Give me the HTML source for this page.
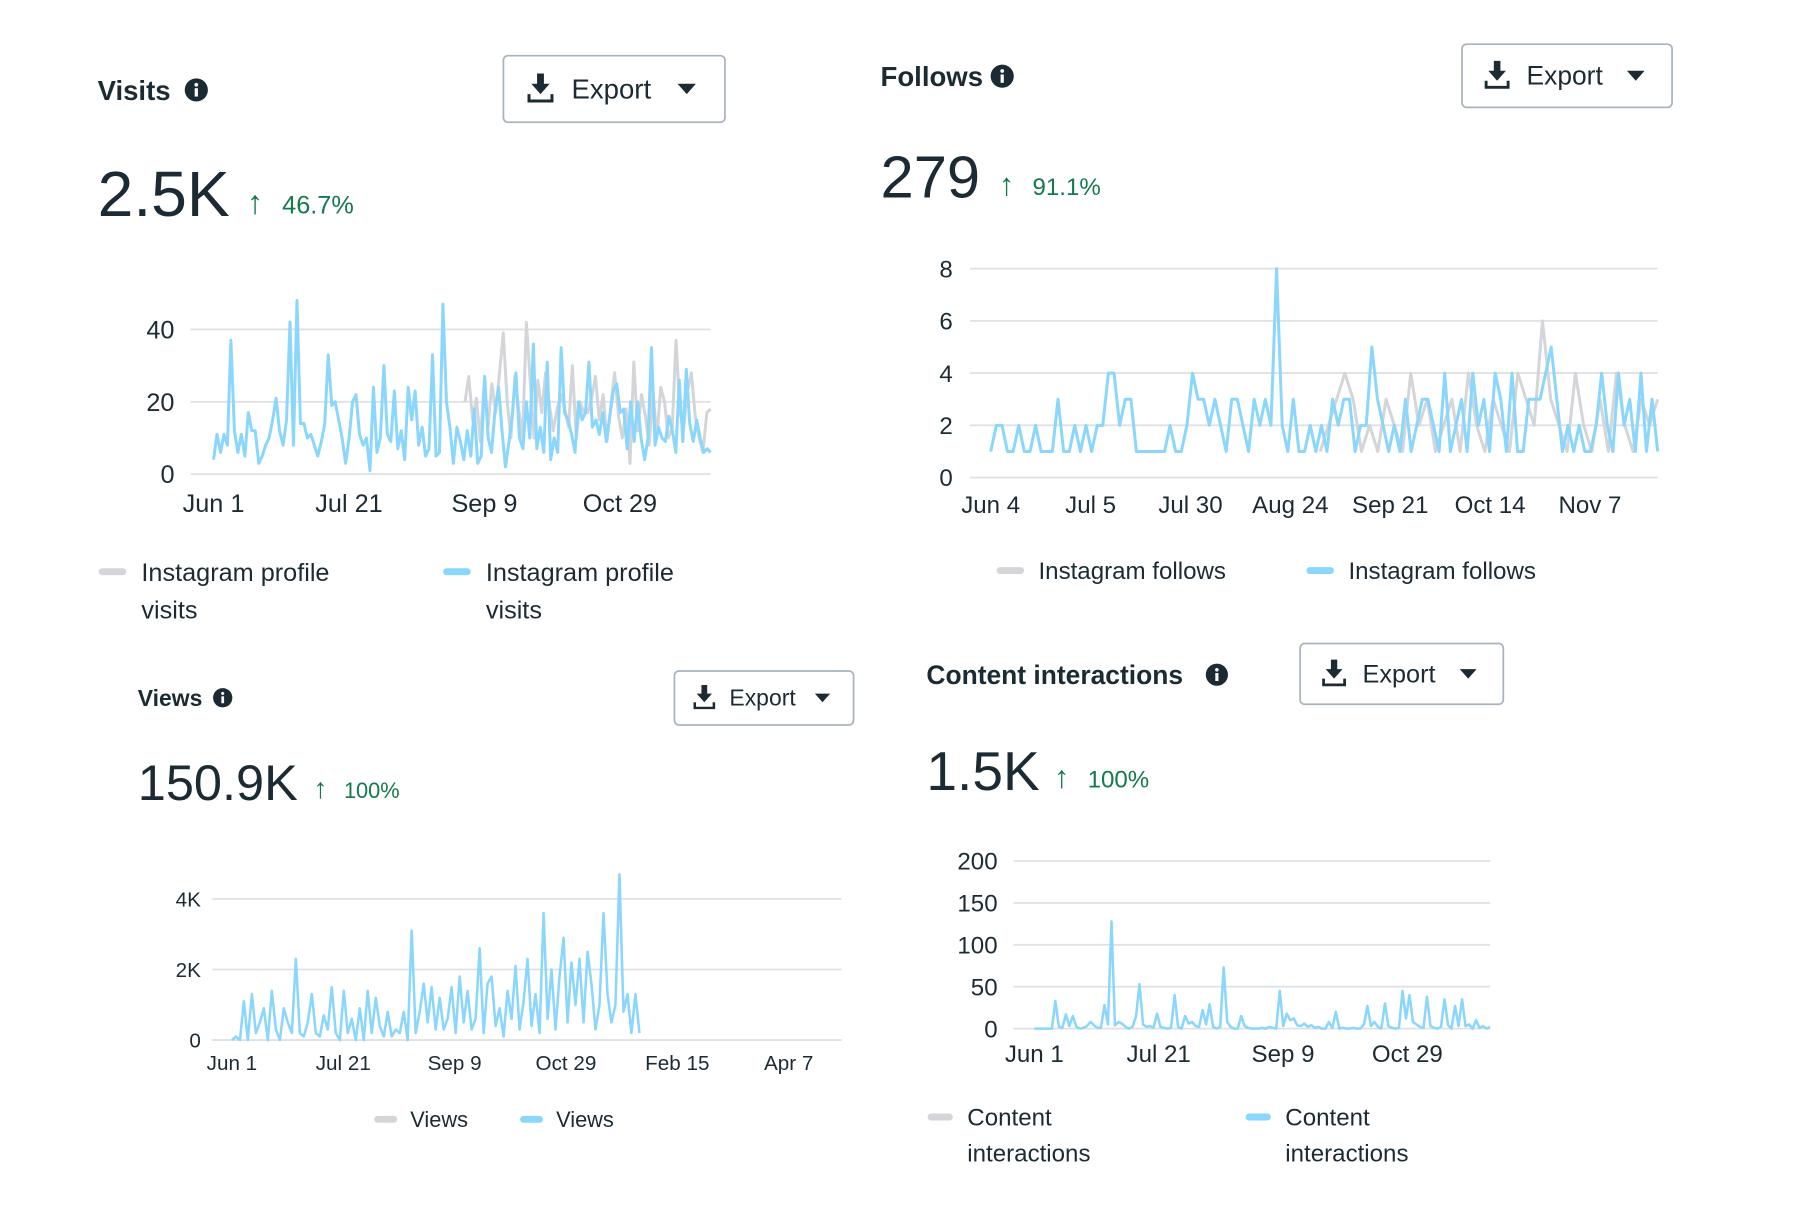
<!DOCTYPE html>
<html><head><meta charset="utf-8"><style>
html,body{margin:0;padding:0;background:#fff;width:1800px;height:1200px;overflow:hidden}
#wrap{position:absolute;left:0;top:0;width:1552px;height:1035px;transform:scale(1.148);transform-origin:0 0}
svg text{font-family:"Liberation Sans",sans-serif;fill:#1c2b33}
</style></head><body>
<div id="wrap">
<svg id="s" width="1552" height="1045" xmlns="http://www.w3.org/2000/svg"></svg>
</div>
<script>
// ---- data ----
const visitsBlue=[4,11,6,11,8,37,12,6,11,5,17,12,12,3,5,8,10,15,21,12,8,15,42,8,48,14,14,10,11,8,5,9,14,33,19,20,15,10,3,10,20,22,11,8,10,1,24,6,10,30,11,9,23,7,12,4,24,15,23,8,13,5,7,33,5,6,47,20,13,3,13,9,4,12,5,18,3,5,27,10,6,18,24,12,2,9,17,28,10,7,20,10,36,7,13,6,31,4,10,6,35,17,15,11,6,20,15,17,31,13,15,11,17,9,16,23,25,17,18,7,20,9,20,10,4,10,35,8,13,10,9,16,12,6,26,9,29,14,9,15,10,6,7,6];
const visitsGray=[20,27,15,21,9,25,13,25,17,28,39,20,10,27,18,10,42,26,10,26,17,28,19,12,18,22,18,13,30,10,20,17,17,21,27,15,22,9,19,28,16,10,18,3,31,12,22,16,8,23,10,24,20,10,13,37,17,13,23,28,16,10,6,17,18];
const visitsTicks=["0","20","40"];
const visitsTickVals=[0,20,40];
const visitsXLabels=["Jun 1","Jul 21","Sep 9","Oct 29"];

const followsBlue=[1,2,2,1,1,2,1,1,2,1,1,1,3,1,1,2,1,2,1,2,2,4,4,2,3,3,1,1,1,1,1,1,2,1,1,2,4,3,3,2,3,2,1,3,3,2,1,3,2,3,2,8,2,1,3,1,1,2,1,2,1,3,2,3,3,1,2,2,5,3,2,1,2,1,3,1,2,3,3,2,1,4,1,2,3,1,4,2,3,1,4,3,1,4,1,1,3,3,3,4,5,3,1,2,1,2,1,1,2,4,2,1,4,2,3,1,4,1,3,1];
const followsGray=[1,2,3,4,3,1,2,1,3,2,1,4,2,3,1,2,3,1,4,2,1,3,2,1,4,3,2,6,3,2,1,4,2,1,3,1,4,2,1,3,2,3];
const followsTicks=["0","2","4","6","8"];
const followsTickVals=[0,2,4,6,8];
const followsXLabels=["Jun 4","Jul 5","Jul 30","Aug 24","Sep 21","Oct 14","Nov 7"];

const viewsBlue=[0,0.1,0,1.1,0,1.3,0.2,0.5,0.9,0,1.4,0.3,0,0.9,0.5,0.2,2.3,0.2,0.1,0.5,1.3,0.2,0.1,0.7,0.3,1.5,0.2,0,1.4,0.2,0.6,0,0.9,0,1.4,0.2,1.2,0.4,0.1,0.8,0.1,0.3,0.2,0.8,0,3.1,0.2,0.8,1.6,0.5,1.5,0.3,1.2,0.3,0.6,1.5,0.2,1.8,0.5,1.4,0.3,0.6,2.6,0.2,1.6,1.8,0.4,0.9,0.1,1.4,0.6,2.1,0.3,1.1,2.3,0.4,1.3,0.2,3.6,0.6,2.0,0.3,1.8,2.9,0.5,2.2,1.0,2.3,0.5,2.5,1.6,0.3,1.0,3.6,1.3,0.5,1.0,4.7,0.8,1.3,0.2,1.3,0.2];
const viewsTicks=["0","2K","4K"];
const viewsTickVals=[0,2,4];
const viewsXLabels=["Jun 1","Jul 21","Sep 9","Oct 29","Feb 15","Apr 7"];

const ciBlue=[0,0,0,0,0,0,33,2,1,17,3,15,2,0,1,3,8,4,1,1,28,5,128,4,8,6,2,0,2,15,53,5,2,3,1,18,2,1,0,1,40,2,0,15,6,8,3,2,22,5,29,2,0,2,73,8,2,0,0,15,3,1,0,0,0,1,0,2,1,0,45,3,18,10,12,4,3,6,2,4,1,2,0,0,8,1,20,0,1,0,0,1,0,0,5,27,3,8,2,0,30,3,1,0,1,45,12,40,8,5,2,1,38,3,1,0,2,35,4,0,27,3,35,3,5,0,10,1,3,0,2];
const ciTicks=["0","50","100","150","200"];
const ciTickVals=[0,50,100,150,200];
const ciXLabels=["Jun 1","Jul 21","Sep 9","Oct 29"];

const NS="http://www.w3.org/2000/svg";
const S=document.getElementById('s');
const BLUE="#8ad6fc",GRAY="#d3d5d9",INK="#1c2b33",GREEN="#147a4b";
function mk(tag,attrs,parent){const e=document.createElementNS(NS,tag);for(const k in attrs)e.setAttribute(k,attrs[k]);(parent||S).appendChild(e);return e;}
function txt(x,y,s,size,weight,fill,anchor){const t=mk('text',{x:x,y:y,'font-size':size,'font-weight':weight||'normal','text-anchor':anchor||'start'});if(fill)t.style.fill=fill;t.textContent=s;return t;}

function infoIcon(cx,cy,r){const g=mk('g',{});


mk('circle',{cx:cx,cy:cy,r:r,fill:INK},g);
mk('circle',{cx:cx,cy:cy-r*0.45,r:r*0.16,fill:'#fff'},g);
mk('rect',{x:cx-r*0.14,y:cy-r*0.15,width:r*0.28,height:r*0.72,fill:'#fff'},g);return g;}

function exportBtn(x,y,w,h,fs){const g=mk('g',{});


mk('rect',{x:x+0.5,y:y+0.5,width:w,height:h,rx:4,fill:'#fff',stroke:'#a9b2bf','stroke-width':1.5},g);
const cx=x+w*0.17,cy=y+h/2,k=fs/24;
mk('path',{d:`M${cx-3*k} ${cy-13*k}h${6*k}v${9*k}h${5*k}l${-8*k} ${9*k}l${-8*k} ${-9*k}h${5*k}z`,fill:INK},g);
mk('path',{d:`M${cx-10*k} ${cy+5*k}v${6*k}h${20*k}v${-6*k}`,fill:'none',stroke:INK,'stroke-width':2.6*k},g);
const t=txt(x+w*0.31,cy+fs*0.36,'Export',fs,'normal',INK);g.appendChild(t);
const tx=x+w*0.83;mk('path',{d:`M${tx-8*k} ${cy-4*k}h${16*k}l${-8*k} ${9*k}z`,fill:INK},g);return g;}

function header(o){
 const t=txt(o.x,o.ty,o.title,o.tfs,'bold');
 infoIcon(o.ix,o.ty-o.tfs*0.36,o.tfs*0.42);
 exportBtn(o.bx,o.by,o.bw,o.bh,o.bfs);
 const b=txt(o.x,o.ny,o.num,o.nfs,'normal');
 const a=txt(o.ax,o.ny-2,'↑',o.pfs*1.3,'normal',GREEN);
 const p=txt(o.ax+o.pfs*1.4,o.ny-2,o.pct,o.pfs,'normal',GREEN);
}

function chart(o){
 const g=mk('g',{});
 const yS=v=>o.y0+(v-o.vmin)/(o.vmax-o.vmin)*(o.y1-o.y0);
 o.tickVals.forEach((v,i)=>{const y=yS(v);
  const l=mk('line',{x1:o.gx0,x2:o.gx1,y1:y,y2:y,stroke:'#dfe1e5','stroke-width':1.6},g);
  
  const t=txt(o.lx,y+o.fs*0.36,o.ticks[i],o.fs,'normal',INK,'end');g.appendChild(t);
  });
 o.xLabels.forEach((s,i)=>{const t=txt(o.xl0+i*o.xlStep,o.xly,s,o.fs,'normal',INK,'middle');g.appendChild(t);
  });
 o.series.forEach(se=>{const n=se.data.length;const pts=se.data.map((v,i)=>{const x=se.xa+(se.xb-se.xa)*i/(n-1);return x.toFixed(1)+','+yS(v).toFixed(1);}).join(' ');
  const pl=mk('polyline',{points:pts,fill:'none',stroke:se.color,'stroke-width':o.sw||2.6,'stroke-linejoin':'round'},g);
  });
}
function legend(x,y,color,lines,fs,lh,dw){const g=mk('g',{});
 
 
 mk('rect',{x:x,y:y-3,width:dw,height:6,rx:3,fill:color},g);
 lines.forEach((s,i)=>{const t=txt(x+dw+(fs*0.6),y+fs*0.36+i*lh,s,fs,'normal',INK);g.appendChild(t);});}

// Visits
header({x:85,ty:87,title:'Visits',tfs:24,ix:171,bx:438,by:48,bw:193,bh:58,bfs:24,num:'2.5K',ny:188,nfs:56,ax:215,pct:'46.7%',pfs:22});
chart({name:'visits-chart',vmin:0,vmax:40,y0:413,y1:287,gx0:166,gx1:619,lx:152,fs:22,ticks:visitsTicks,tickVals:visitsTickVals,
 xLabels:visitsXLabels,xl0:186,xlStep:118,xly:446,
 series:[{name:'visits-gray-line',data:visitsGray,xa:405,xb:619,color:GRAY},{name:'visits-blue-line',data:visitsBlue,xa:186,xb:619,color:BLUE}]});
legend(86,498,GRAY,['Instagram profile','visits'],22,33,24);
legend(386,498,BLUE,['Instagram profile','visits'],22,33,24);

// Follows
header({x:767,ty:75,title:'Follows',tfs:24,ix:873,bx:1273,by:38,bw:183,bh:55,bfs:23,num:'279',ny:172,nfs:52,ax:870,pct:'91.1%',pfs:21});
chart({name:'follows-chart',vmin:0,vmax:8,y0:416,y1:234,gx0:845,gx1:1444,lx:830,fs:21,ticks:followsTicks,tickVals:followsTickVals,
 xLabels:followsXLabels,xl0:863,xlStep:87,xly:447,
 series:[{name:'follows-gray-line',data:followsGray,xa:1150,xb:1444,color:GRAY},{name:'follows-blue-line',data:followsBlue,xa:863,xb:1444,color:BLUE}]});
legend(868,497,GRAY,['Instagram follows'],21,30,24);
legend(1138,497,BLUE,['Instagram follows'],21,30,24);

// Views
header({x:120,ty:615,title:'Views',tfs:20,ix:194,bx:587,by:584,bw:156,bh:47,bfs:20,num:'150.9K',ny:697,nfs:44,ax:273,pct:'100%',pfs:19});
chart({name:'views-chart',vmin:0,vmax:4,y0:906,y1:783,gx0:185,gx1:733,lx:175,fs:18,ticks:viewsTicks,tickVals:viewsTickVals,
 xLabels:viewsXLabels,xl0:202,xlStep:97,xly:932,sw:2.2,
 series:[{name:'views-blue-line',data:viewsBlue,xa:202,xb:557,color:BLUE}]});
legend(326,975,GRAY,['Views'],19,28,20);
legend(453,975,BLUE,['Views'],19,28,20);

// Content interactions
header({x:807,ty:596,title:'Content interactions',tfs:23,ix:1060,bx:1132,by:560,bw:177,bh:53,bfs:22,num:'1.5K',ny:688,nfs:48,ax:918,pct:'100%',pfs:21});
chart({name:'content-interactions-chart',vmin:0,vmax:200,y0:896,y1:750,gx0:883,gx1:1298,lx:869,fs:21,ticks:ciTicks,tickVals:ciTickVals,
 xLabels:ciXLabels,xl0:901,xlStep:108.3,xly:925,sw:2.2,
 series:[{name:'content-interactions-blue-line',data:ciBlue,xa:901,xb:1298,color:BLUE}]});
legend(808,973,GRAY,['Content','interactions'],21,31,22);
legend(1085,973,BLUE,['Content','interactions'],21,31,22);
</script>
</body></html>
